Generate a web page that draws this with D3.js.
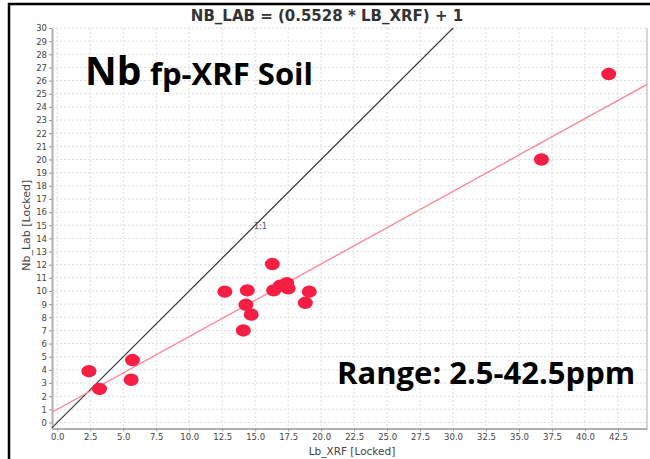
<!DOCTYPE html>
<html>
<head>
<meta charset="utf-8">
<script src="https://cdn.jsdelivr.net/npm/d3@7"></script>
<style>
  html, body { margin: 0; padding: 0; background: #fff; }
  svg { display: block; }
</style>
</head>
<body>
<svg id="chart" width="650" height="459"></svg>
<script>
// Lab Nb vs field-portable XRF Nb (ppm)
const xrfValues = [2.4, 3.2, 5.7, 5.6, 12.7, 14.1, 14.3, 14.4, 14.7, 16.3, 16.4, 16.9, 17.4, 17.5, 19.1, 18.8, 36.7, 41.8];
const labValues = [3.9, 2.55, 4.75, 3.25, 9.95, 7.0, 8.95, 10.05, 8.2, 12.05, 10.05, 10.4, 10.6, 10.2, 9.95, 9.1, 20.0, 26.5];

// regression fit and reference line
const fitSlope = 0.5528;
const fitIntercept = 1;
const xTicks = [0, 2.5, 5, 7.5, 10, 12.5, 15, 17.5, 20, 22.5, 25, 27.5, 30, 32.5, 35, 37.5, 40, 42.5];
const yTicks = d3.range(0, 31);

const svg = d3.select("#chart");
const plot = { left: 52, right: 647, top: 28, bottom: 428.4 };

const x = d3.scaleLinear().domain([-0.4, 44.7]).range([plot.left, plot.right]);
const y = d3.scaleLinear().domain([-0.45, 30]).range([plot.bottom, plot.top]);

// outer frame
svg.append("line").attr("x1", 8).attr("x2", 650).attr("y1", 4).attr("y2", 4)
  .attr("stroke", "#000").attr("stroke-width", 2.5);
svg.append("line").attr("x1", 9).attr("x2", 9).attr("y1", 3).attr("y2", 459)
  .attr("stroke", "#000").attr("stroke-width", 2.5);

// plot background
svg.append("rect").attr("x", plot.left).attr("y", plot.top)
  .attr("width", plot.right - plot.left).attr("height", plot.bottom - plot.top)
  .attr("fill", "#fff");

const clipId = "plotClip";
svg.append("clipPath").attr("id", clipId).append("rect")
  .attr("x", plot.left).attr("y", plot.top)
  .attr("width", plot.right - plot.left).attr("height", plot.bottom - plot.top);

// grid
const grid = svg.append("g").attr("stroke", "#dcdcdc").attr("stroke-dasharray", "2,2").attr("stroke-width", 1);
grid.selectAll("line.gx").data(xTicks).join("line").attr("class", "gx")
  .attr("x1", d => x(d)).attr("x2", d => x(d)).attr("y1", plot.top).attr("y2", plot.bottom);
grid.selectAll("line.gy").data(yTicks).join("line").attr("class", "gy")
  .attr("y1", d => y(d)).attr("y2", d => y(d)).attr("x1", plot.left).attr("x2", plot.right);

// right border
svg.append("line").attr("x1", plot.right).attr("x2", plot.right).attr("y1", plot.top).attr("y2", plot.bottom)
  .attr("stroke", "#c8c8c8").attr("stroke-width", 1.5);

// axes
const xAxis = svg.append("g").attr("transform", `translate(0,${plot.bottom})`)
  .call(d3.axisBottom(x).tickValues(xTicks).tickFormat(d3.format(".1f")).tickSize(3).tickSizeOuter(0));
const yAxis = svg.append("g").attr("transform", `translate(${plot.left},0)`)
  .call(d3.axisLeft(y).tickValues(yTicks).tickFormat(d3.format("d")).tickSize(3).tickSizeOuter(0));
[xAxis, yAxis].forEach(a => {
  a.select(".domain").attr("stroke", "#b0b0b0").attr("stroke-width", 2);
  a.selectAll(".tick line").attr("stroke", "#999");
  a.selectAll(".tick text").attr("fill", "#444").style("font-family", "DejaVu Sans").style("font-size", "8.5px");
});
yAxis.selectAll(".tick text").attr("x", -5).attr("dy", "0.34em");
xAxis.selectAll(".tick text").attr("y", 6);

const lines = svg.append("g").attr("clip-path", `url(#${clipId})`);

// 1:1 line
lines.append("line")
  .attr("x1", x(-0.45)).attr("y1", y(-0.45)).attr("x2", x(31)).attr("y2", y(31))
  .attr("stroke", "#333").attr("stroke-width", 1.2);

// fitted line
const fitX = [-0.4, 44.7];
lines.append("line")
  .attr("x1", x(fitX[0])).attr("y1", y(fitSlope * fitX[0] + fitIntercept))
  .attr("x2", x(fitX[1])).attr("y2", y(fitSlope * fitX[1] + fitIntercept))
  .attr("stroke", "#ff8296").attr("stroke-width", 1.3);

svg.append("text").attr("x", x(15.4)).attr("y", y(14.95)).attr("dy", "0.35em")
  .attr("text-anchor", "middle").attr("fill", "#555")
  .style("font-family", "DejaVu Sans").style("font-size", "8px").text("1:1");

// samples
const pts = xrfValues.map((v, i) => ({ x: v, y: labValues[i] }));
svg.append("g").selectAll("ellipse").data(pts).join("ellipse")
  .attr("cx", d => x(d.x)).attr("cy", d => y(d.y))
  .attr("rx", 7.5).attr("ry", 6.2).attr("fill", "#f71e44");

// title and axis labels
svg.append("text").attr("x", 327).attr("y", 21).attr("text-anchor", "middle")
  .attr("fill", "#333").style("font-family", "DejaVu Sans").style("font-weight", "bold").style("font-size", "15px")
  .text("NB_LAB = (0.5528 * LB_XRF) + 1");
svg.append("text").attr("x", 352).attr("y", 455).attr("text-anchor", "middle")
  .attr("fill", "#444").style("font-family", "DejaVu Sans").style("font-size", "10.5px")
  .text("Lb_XRF [Locked]");
svg.append("text").attr("transform", `translate(30,${y(15)}) rotate(-90)`).attr("text-anchor", "middle")
  .attr("fill", "#444").style("font-family", "DejaVu Sans").style("font-size", "11px")
  .text("Nb_Lab [Locked]");

// annotations
const ann = svg.append("g").style("font-family", "Open Sans").style("font-weight", "bold").attr("fill", "#000");
ann.append("text").attr("x", 85).attr("y", 85).style("font-size", "39px").text("Nb");
ann.append("text").attr("x", 150).attr("y", 85).style("font-size", "31px").text("fp-XRF Soil");
ann.append("text").attr("x", 337).attr("y", 384).style("font-size", "31px").text("Range: 2.5-42.5ppm");
</script>
</body>
</html>
